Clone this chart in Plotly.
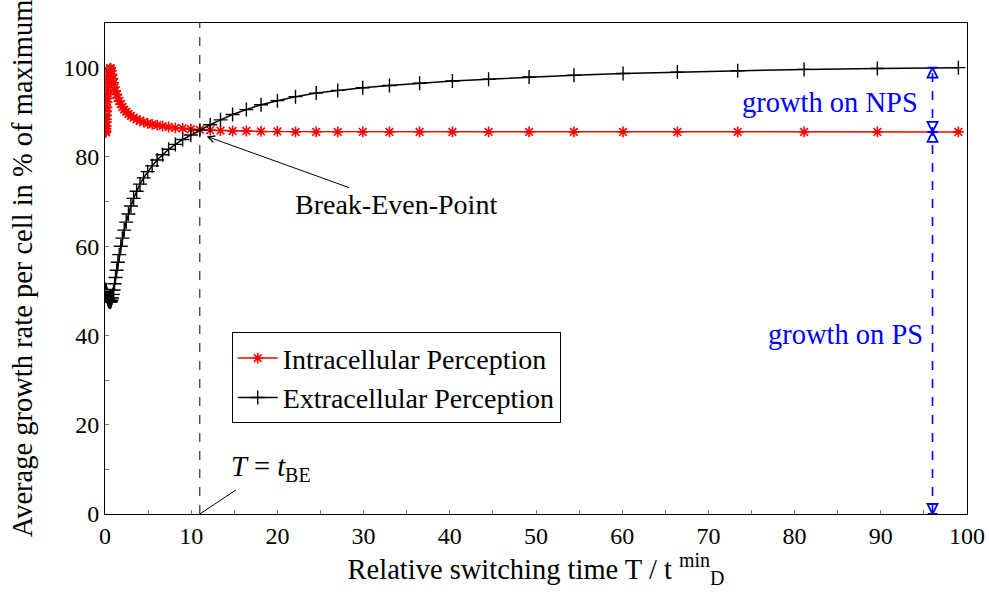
import plotly.graph_objects as go

# ---------------- data ----------------
switch_time = [0.10, 0.11, 0.12, 0.13, 0.15, 0.16, 0.18, 0.20, 0.22, 0.25,
               0.27, 0.30, 0.33, 0.37, 0.41, 0.45, 0.50, 0.55, 0.61, 0.67,
               0.74, 0.82, 0.91, 1.00, 1.11, 1.22, 1.35, 1.50, 1.65, 1.83,
               2.02, 2.23, 2.46, 2.72, 3.01, 3.32, 3.67, 4.06, 4.48, 4.95,
               5.47, 6.05, 6.68, 7.38, 8.16, 9.01, 9.96, 11.0, 12.2, 13.4,
               14.8, 16.4, 18.1, 20.0, 22.1, 24.5, 27.0, 29.9, 33.0, 36.5,
               40.3, 44.5, 49.2, 54.4, 60.1, 66.4, 73.4, 81.1, 89.6, 99.0]

intracellular = [85.5, 85.8, 86.3, 86.9, 87.8, 88.4, 89.3, 90.2, 91.1, 92.3,
                 93.1, 94.2, 95.2, 96.4, 97.4, 98.3, 99.1, 99.6, 99.9, 99.8,
                 99.3, 98.5, 97.5, 96.6, 95.6, 94.8, 94.0, 93.2, 92.5, 91.8,
                 91.2, 90.6, 90.1, 89.6, 89.2, 88.8, 88.4, 88.1, 87.8, 87.5,
                 87.3, 87.1, 86.9, 86.7, 86.5, 86.4, 86.2, 86.1, 86.0, 85.9,
                 85.8, 85.8, 85.7, 85.7, 85.6, 85.6, 85.6, 85.6, 85.6, 85.6,
                 85.6, 85.6, 85.6, 85.6, 85.6, 85.6, 85.6, 85.6, 85.6, 85.6]

extracellular = [50.3, 50.2, 50.1, 50.0, 49.8, 49.7, 49.5, 49.3, 49.1, 48.8,
                 48.6, 48.4, 48.2, 48.0, 47.8, 47.7, 47.6, 47.5, 47.5, 47.6,
                 47.9, 48.4, 49.2, 50.2, 51.6, 53.0, 54.6, 56.4, 58.1, 60.0,
                 61.8, 63.6, 65.4, 67.2, 69.0, 70.7, 72.3, 73.9, 75.3, 76.7,
                 78.0, 79.3, 80.5, 81.7, 82.8, 83.9, 84.9, 86.0, 87.2, 88.3,
                 89.5, 90.6, 91.7, 92.6, 93.5, 94.3, 94.9, 95.5, 96.0, 96.5,
                 97.0, 97.4, 97.9, 98.3, 98.7, 99.0, 99.3, 99.6, 99.8, 100.0]

x_ticks = [0, 10, 20, 30, 40, 50, 60, 70, 80, 90, 100]
y_ticks = [0, 20, 40, 60, 80, 100]

break_even_x = 11.0
arrow_x = 96.0
level_max = 100.0
level_ps = 85.6

FONT = "Liberation Serif, Times New Roman, serif"
FS = 28.5    # text size
FT = 24      # tick label size

fig = go.Figure()

fig.add_trace(go.Scatter(
    x=switch_time, y=intracellular, mode="lines+markers",
    name="Intracellular Perception",
    line=dict(color="#ff0000", width=1.5),
    marker=dict(symbol="asterisk-open", size=9, color="#ff0000",
                line=dict(color="#ff0000", width=1.6)),
))
fig.add_trace(go.Scatter(
    x=switch_time, y=extracellular, mode="lines+markers",
    name="Extracellular Perception",
    line=dict(color="#000000", width=1.5),
    marker=dict(symbol="cross-thin-open", size=10, color="#000000",
                line=dict(color="#000000", width=1.4)),
))

# blue dimension arrows
fig.add_shape(type="line", x0=arrow_x, x1=arrow_x, y0=0, y1=level_max,
              xref="x", yref="y", line=dict(color="#0000ff", width=1.6, dash="dash"))
fig.add_trace(go.Scatter(
    x=[arrow_x, arrow_x], y=[level_max, level_ps], mode="markers",
    marker=dict(symbol="arrow-bar-up-open", size=10, color="#0000ff",
                line=dict(color="#0000ff", width=1.8)),
    showlegend=False, hoverinfo="skip"))
fig.add_trace(go.Scatter(
    x=[arrow_x, arrow_x], y=[level_ps, 0], mode="markers",
    marker=dict(symbol="arrow-bar-down-open", size=10, color="#0000ff",
                line=dict(color="#0000ff", width=1.8)),
    showlegend=False, hoverinfo="skip"))

# break-even dashed line
fig.add_shape(type="line", x0=break_even_x, x1=break_even_x, y0=0, y1=110,
              xref="x", yref="y", line=dict(color="black", width=1, dash="dash"))
# T = t_BE pointer line
fig.add_shape(type="line", x0=break_even_x, x1=15.2, y0=0, y1=5.4,
              xref="x", yref="y", line=dict(color="black", width=1))

fig.add_annotation(x=19.2, y=10.2, xref="x", yref="y", showarrow=False,
                   text="<i>T</i> = <i>t</i><sub>BE</sub>",
                   font=dict(family=FONT, size=FS, color="black"))

fig.add_annotation(x=11.8, y=84.6, xref="x", yref="y",
                   ax=33.8, ay=69.3, axref="x", ayref="y",
                   text="Break-Even-Point", showarrow=True,
                   arrowhead=5, arrowsize=1.3, arrowwidth=1, arrowcolor="black",
                   font=dict(family=FONT, size=28, color="black"))

fig.add_annotation(x=94.6, y=92.3, xref="x", yref="y", showarrow=False,
                   xanchor="right", text="growth on NPS",
                   font=dict(family=FONT, size=FS, color="#0000ff"))
fig.add_annotation(x=95.1, y=40.3, xref="x", yref="y", showarrow=False,
                   xanchor="right", text="growth on PS",
                   font=dict(family=FONT, size=FS, color="#0000ff"))

axis_common = dict(showline=True, linecolor="black", linewidth=1, mirror=True,
                   showgrid=False, zeroline=False, ticks="inside", ticklen=4,
                   tickcolor="#777777", tickwidth=1, automargin=False,
                   tickfont=dict(family=FONT, size=FT, color="black"))

fig.update_xaxes(range=[0, 100], tickvals=x_ticks,
                 minor=dict(dtick=5, ticks="inside", ticklen=4, tickcolor="#777777"),
                 title=dict(text="Relative switching time T / t <sup>min</sup><sub>D</sub>",
                            font=dict(family=FONT, size=FS, color="black"), standoff=10),
                 **axis_common)
fig.update_yaxes(range=[0, 110], tickvals=y_ticks,
                 minor=dict(dtick=10, ticks="inside", ticklen=4, tickcolor="#777777"),
                 title=dict(text="Average growth rate per cell in % of maximum",
                            font=dict(family=FONT, size=FS, color="black"), standoff=22),
                 **axis_common)

fig.update_layout(
    width=989, height=602,
    margin=dict(l=105, r=22, t=23, b=88),
    plot_bgcolor="white", paper_bgcolor="white",
    font=dict(family=FONT, size=FS, color="black"),
    legend=dict(x=0.147, y=0.37, xanchor="left", yanchor="top",
                bordercolor="black", borderwidth=1, bgcolor="white",
                font=dict(family=FONT, size=28, color="black"),
                tracegroupgap=0, itemwidth=40),
)

fig.write_html("out.html")
